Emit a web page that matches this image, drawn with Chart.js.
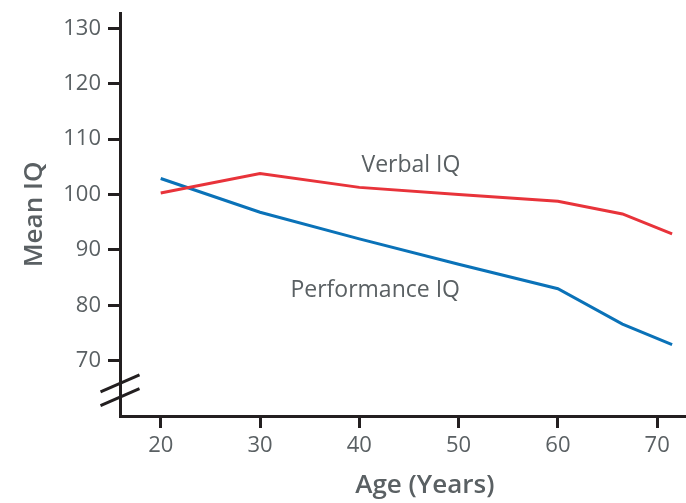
<!DOCTYPE html>
<html lang="en">
<head>
  <meta charset="UTF-8">
  <title>Mean IQ by Age</title>
  <script src="https://cdn.jsdelivr.net/npm/chart.js"></script>
  <style>
    body {
      margin: 0;
      background-color: #fff;
    }
    #wrap {
      width: 686px;
      height: 503px;
    }
  </style>
</head>
<body>
  <div id="wrap"><canvas id="iqChart"></canvas></div>

  <script>
    const ages = [20, 30, 40, 50, 60, 66.5, 71.5];
    const verbalIQ = [100.3, 103.8, 101.3, 100.0, 98.8, 96.5, 92.9];
    const performanceIQ = [102.9, 96.8, 92.0, 87.4, 83.0, 76.6, 72.9];
    const xTicks = [20, 30, 40, 50, 60, 70];
    const yTicks = [70, 80, 90, 100, 110, 120, 130];

    const axisColor = '#231f20';
    const textColor = '#5a6063';
    const fontFamily = '"Open Sans", sans-serif';

    const toPoints = vals => ages.map((a, i) => ({ x: a, y: vals[i] }));

    // line labels, x title, axis break marks
    const extras = {
      id: 'extras',
      afterDraw(chart) {
        const { ctx, scales: { x, y }, chartArea } = chart;
        ctx.save();
        ctx.font = '23px ' + fontFamily;
        ctx.fillStyle = textColor;
        ctx.textAlign = 'center';
        ctx.textBaseline = 'middle';
        ctx.fillText('Verbal IQ', x.getPixelForValue(45.2), y.getPixelForValue(105.3));
        ctx.fillText('Performance IQ', x.getPixelForValue(41.6), y.getPixelForValue(82.7));

        ctx.font = '600 26px ' + fontFamily;
        ctx.fillText('Age (Years)', x.getPixelForValue(46.6), chartArea.bottom + 70);

        ctx.strokeStyle = axisColor;
        ctx.lineWidth = 3;
        [65.9, 63.4].forEach(v => {
          const cx = chartArea.left;
          const cy = y.getPixelForValue(v);
          ctx.beginPath();
          ctx.moveTo(cx - 19.5, cy + 8.5);
          ctx.lineTo(cx + 19.5, cy - 8.5);
          ctx.stroke();
        });
        ctx.restore();
      }
    };

    new Chart(document.getElementById('iqChart'), {
      type: 'line',
      data: {
        datasets: [
          {
            label: 'Verbal IQ',
            data: toPoints(verbalIQ),
            borderColor: '#e8333a',
            borderWidth: 3,
            pointRadius: 0,
            tension: 0
          },
          {
            label: 'Performance IQ',
            data: toPoints(performanceIQ),
            borderColor: '#0a72b8',
            borderWidth: 3,
            pointRadius: 0,
            tension: 0
          }
        ]
      },
      options: {
        responsive: true,
        maintainAspectRatio: false,
        animation: false,
        layout: { padding: { top: 13, right: 0, left: 0, bottom: 0 } },
        plugins: {
          legend: { display: false },
          tooltip: { enabled: false }
        },
        scales: {
          x: {
            type: 'linear',
            min: 15.9,
            max: 72.9,
            afterBuildTicks: s => { s.ticks = xTicks.map(v => ({ value: v })); },
            afterFit: s => { s.height = 87; s.paddingLeft = 0; s.paddingRight = 0; },
            border: { color: axisColor, width: 3 },
            grid: { drawOnChartArea: false, color: axisColor, lineWidth: 3, tickLength: 12 },
            ticks: {
              color: textColor,
              padding: 5,
              maxRotation: 0,
              font: { family: fontFamily, size: 22 }
            }
          },
          y: {
            min: 60,
            max: 132.8,
            afterBuildTicks: s => { s.ticks = yTicks.map(v => ({ value: v })); },
            afterFit: s => { s.width = 120; s.paddingTop = 0; s.paddingBottom = 0; },
            border: { color: axisColor, width: 3 },
            grid: { drawOnChartArea: false, color: axisColor, lineWidth: 3, tickLength: 12 },
            ticks: {
              color: textColor,
              padding: 7,
              font: { family: fontFamily, size: 22 }
            },
            title: {
              display: true,
              text: 'Mean IQ',
              color: textColor,
              padding: { top: 19 },
              font: { family: fontFamily, size: 26, weight: '600' }
            }
          }
        }
      },
      plugins: [extras]
    });
  </script>
</body>
</html>
